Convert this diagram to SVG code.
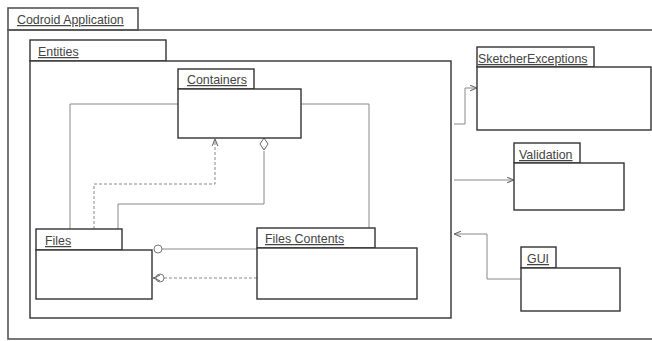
<svg xmlns="http://www.w3.org/2000/svg" width="652" height="341" viewBox="0 0 652 341">
<defs>
<style>
.box{fill:#fff;stroke:#333;stroke-width:1.4}
.frame{fill:none;stroke:#555;stroke-width:1.6}
.lbl{font-family:"Liberation Sans",Arial,sans-serif;font-size:12.4px;fill:#444;text-decoration:underline}
.c{fill:none;stroke:#888;stroke-width:1}
.d{fill:none;stroke:#888;stroke-width:1;stroke-dasharray:3,2}
</style>
<marker id="arr" viewBox="0 0 10 10" refX="10" refY="5" markerWidth="7" markerHeight="7" orient="auto">
<path d="M0,1 L10,5 L0,9" fill="none" stroke="#666" stroke-width="1.5"/>
</marker>
</defs>
<rect width="652" height="341" fill="#fff"/>
<g id="codroid-application">
<rect class="frame" x="8" y="8" width="130" height="22"/>
<rect class="frame" x="8" y="30" width="650" height="309"/>
<text class="lbl" x="17" y="24">Codroid Application</text>
</g>
<g id="entities">
<rect class="box" x="30" y="40" width="136" height="21"/>
<rect class="box" x="30" y="61" width="421" height="257"/>
<text class="lbl" x="38" y="56">Entities</text>
</g>
<g id="connectors">
<polyline class="c" points="70,229 70,104 369,104 369,228"/>
<polyline class="d" points="94,229 94,184 215,184 215,139" marker-end="url(#arr)"/>
<polyline class="c" points="118,229 118,204 264,204 264,151"/>
<path d="M264,138 L268,144 L264,150 L260,144 Z" fill="#fff" stroke="#666" stroke-width="1"/>
<line class="c" x1="257" y1="249" x2="162" y2="249"/>
<circle cx="158" cy="249" r="4" fill="#fff" stroke="#777" stroke-width="1"/>
<line class="d" x1="257" y1="278" x2="164" y2="278"/>
<circle cx="160" cy="278" r="4" fill="#fff" stroke="#777" stroke-width="1"/>
<polyline class="c" points="156,278 153,278" marker-end="url(#arr)"/>
<polyline class="c" points="454,124 465,124 465,88 477,88" marker-end="url(#arr)"/>
<line class="c" x1="454" y1="180" x2="514" y2="180" marker-end="url(#arr)"/>
<polyline class="c" points="521,279 487,279 487,234 454,234" marker-end="url(#arr)"/>
</g>
<g id="containers">
<rect class="box" x="178" y="69" width="76" height="20"/>
<rect class="box" x="178" y="89" width="123" height="49"/>
<text class="lbl" x="187" y="84">Containers</text>
</g>
<g id="files">
<rect class="box" x="36" y="229" width="86" height="21"/>
<rect class="box" x="36" y="250" width="116" height="49"/>
<text class="lbl" x="45" y="245">Files</text>
</g>
<g id="files-contents">
<rect class="box" x="257" y="228" width="118" height="20"/>
<rect class="box" x="257" y="248" width="160" height="51"/>
<text class="lbl" x="265" y="243">Files Contents</text>
</g>
<g id="sketcher-exceptions">
<rect class="box" x="477" y="47" width="117" height="20"/>
<rect class="box" x="477" y="67" width="174" height="63"/>
<text class="lbl" x="478" y="63">SketcherExceptions</text>
</g>
<g id="validation">
<rect class="box" x="514" y="143" width="66" height="20"/>
<rect class="box" x="514" y="163" width="110" height="47"/>
<text class="lbl" x="519" y="159">Validation</text>
</g>
<g id="gui">
<rect class="box" x="521" y="247" width="35" height="21"/>
<rect class="box" x="521" y="268" width="99" height="43"/>
<text class="lbl" x="527" y="263">GUI</text>
</g>
</svg>
